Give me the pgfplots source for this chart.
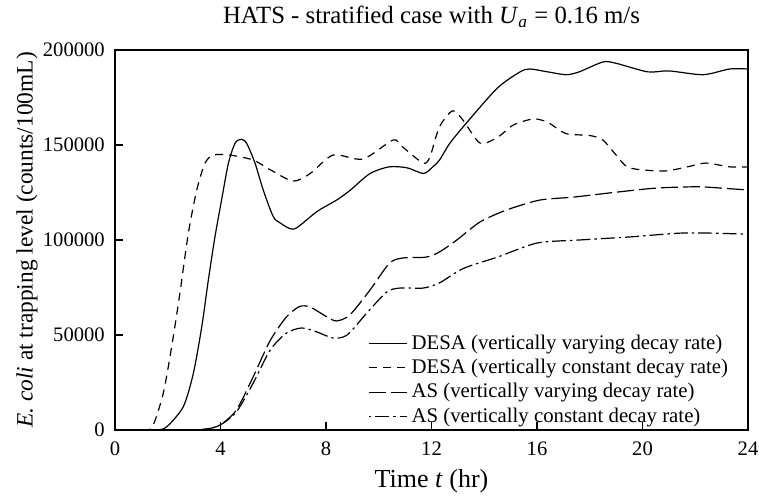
\documentclass[border=0pt]{standalone}
\usepackage{fontspec}
\setmainfont{Liberation Serif}
\usepackage{pgfplots}
\pgfplotsset{compat=1.18}
\begin{document}
\begin{tikzpicture}
\begin{axis}[
  scale only axis,
  width=316.5pt, height=190pt,
  xmin=0, xmax=24, ymin=0, ymax=200000,
  xtick={0,4,8,12,16,20,24},
  xticklabels={0,4,8,12,16,20,24},
  ytick={0,50000,100000,150000,200000},
  yticklabels={0,50000,100000,150000,200000},
  xtick pos=bottom, ytick pos=left,
  tick align=inside,
  major tick length=4pt,
  scaled y ticks=false,
  tick label style={font=\fontsize{10.3}{12}\selectfont},
  xticklabel style={yshift=-2.4pt},
  yticklabel style={xshift=-1.6pt},
  title={HATS - stratified case with \textit{U}\textsubscript{\textit{a}} = 0.16 m/s},
  title style={font=\fontsize{12.4}{14}\selectfont, at={(axis description cs:0.5,1.0868)}, anchor=center, yshift=-6pt},
  xlabel={Time \textit{t} (hr)},
  ylabel={\textit{E. coli} at trapping level (counts/100mL)},
  xlabel style={font=\fontsize{13}{15}\selectfont, at={(axis description cs:0.5,-0.1355)}, anchor=center},
  ylabel style={font=\fontsize{11.7}{14}\selectfont, at={(axis description cs:-0.139,0.5)}, anchor=center},
  axis line style={line width=0.6pt},
  every tick/.style={line width=0.6pt, black},
  legend style={draw=none, fill=none, at={(0.985,-0.01)}, anchor=south east,
    font=\fontsize{10.4}{12.2}\selectfont, row sep=-0.5pt},
  legend cell align=left,
  legend image code/.code={\draw[#1] (0pt,0pt) -- (19pt,0pt);},
  every axis plot/.append style={line width=0.6pt, black, smooth, tension=0.45},
]
\addplot[solid] coordinates {
(0,0) (1.5,0) (1.96,1700) (2.59,12300) (2.97,29800) (3.29,54400) (3.54,79000)
(3.79,101700) (4.04,121000) (4.3,140400) (4.55,150900) (4.78,153000) (4.99,150900)
(5.31,140400) (5.62,126300) (6.0,112300) (6.26,109000) (6.63,106000) (6.9,106500)
(7.66,115000) (8.4,121000) (8.9,126000) (9.67,135000) (10.4,138500) (11.07,138000)
(11.7,135000) (12.05,138500) (12.3,142000) (12.7,151000) (13.35,162000) (14.5,180000)
(15.36,188500) (15.73,190000) (16.4,188500) (17.1,187000) (17.6,188500) (18.5,193700)
(19.0,193000) (20.2,188500) (21.0,189000) (22.3,187000) (23.3,190000) (24,190000)
};
\addlegendentry{DESA (vertically varying decay rate)}
\addplot[dash pattern=on 4pt off 3pt] coordinates {
(0,0) (1.2,0) (1.45,2600) (1.83,19300) (2.15,43900) (2.46,71900) (2.78,103500)
(3.1,126300) (3.41,140400) (3.73,144700) (4.36,144700) (5.24,142100) (5.88,137000)
(6.75,131000) (7.4,135000) (8.27,144700) (9.4,142600) (10.54,152600) (10.9,149000)
(11.68,140500) (11.94,143700) (12.3,159500) (12.8,168000) (13.2,163000) (13.84,151000)
(14.5,154000) (15.1,160500) (15.85,163700) (16.4,162000) (17.1,156000) (18.0,155000)
(18.5,152600) (19.0,144700) (19.5,138000) (20.8,136300) (21.7,138500) (22.4,140500)
(23.3,138500) (24,138500)
};
\addlegendentry{DESA (vertically constant decay rate)}
\addplot[dash pattern=on 8.5pt off 2.5pt] coordinates {
(0,0) (2.5,0) (3.4,400) (3.98,2600) (4.6,10500) (5.24,28000) (5.88,47000) (6.5,59500)
(7.0,65000) (7.4,64700) (8.04,59500) (8.4,57400) (8.9,60500) (9.67,73700) (10.4,87700)
(10.9,90500) (11.8,91000) (12.3,93700) (12.96,100000) (13.84,109500) (14.85,115800)
(16.1,121000) (17.4,122600) (18.9,125000) (20.5,127300) (22.1,128000) (23.3,127000)
(24,126300)
};
\addlegendentry{AS (vertically varying decay rate)}
\addplot[dash pattern=on 1.2pt off 2pt on 7pt off 2pt] coordinates {
(0,0) (2.5,0) (3.4,400) (3.98,2600) (4.6,9500) (5.24,24700) (5.88,42000) (6.5,51000)
(7.08,53700) (7.66,51600) (8.27,48400) (8.8,50000) (9.55,61600) (10.3,72600)
(10.8,74700) (11.68,74700) (12.3,77400) (13.2,85000) (14.5,91000) (16.0,98400)
(17.6,100000) (19.5,101600) (21.4,103600) (22.7,103600) (24,103000)
};
\addlegendentry{AS (vertically constant decay rate)}
\end{axis}
\pgfresetboundingbox
\path ([xshift=-57.5pt,yshift=-34pt]current axis.south west) rectangle ([xshift=5.5pt,yshift=25pt]current axis.north east);
\end{tikzpicture}
\end{document}
